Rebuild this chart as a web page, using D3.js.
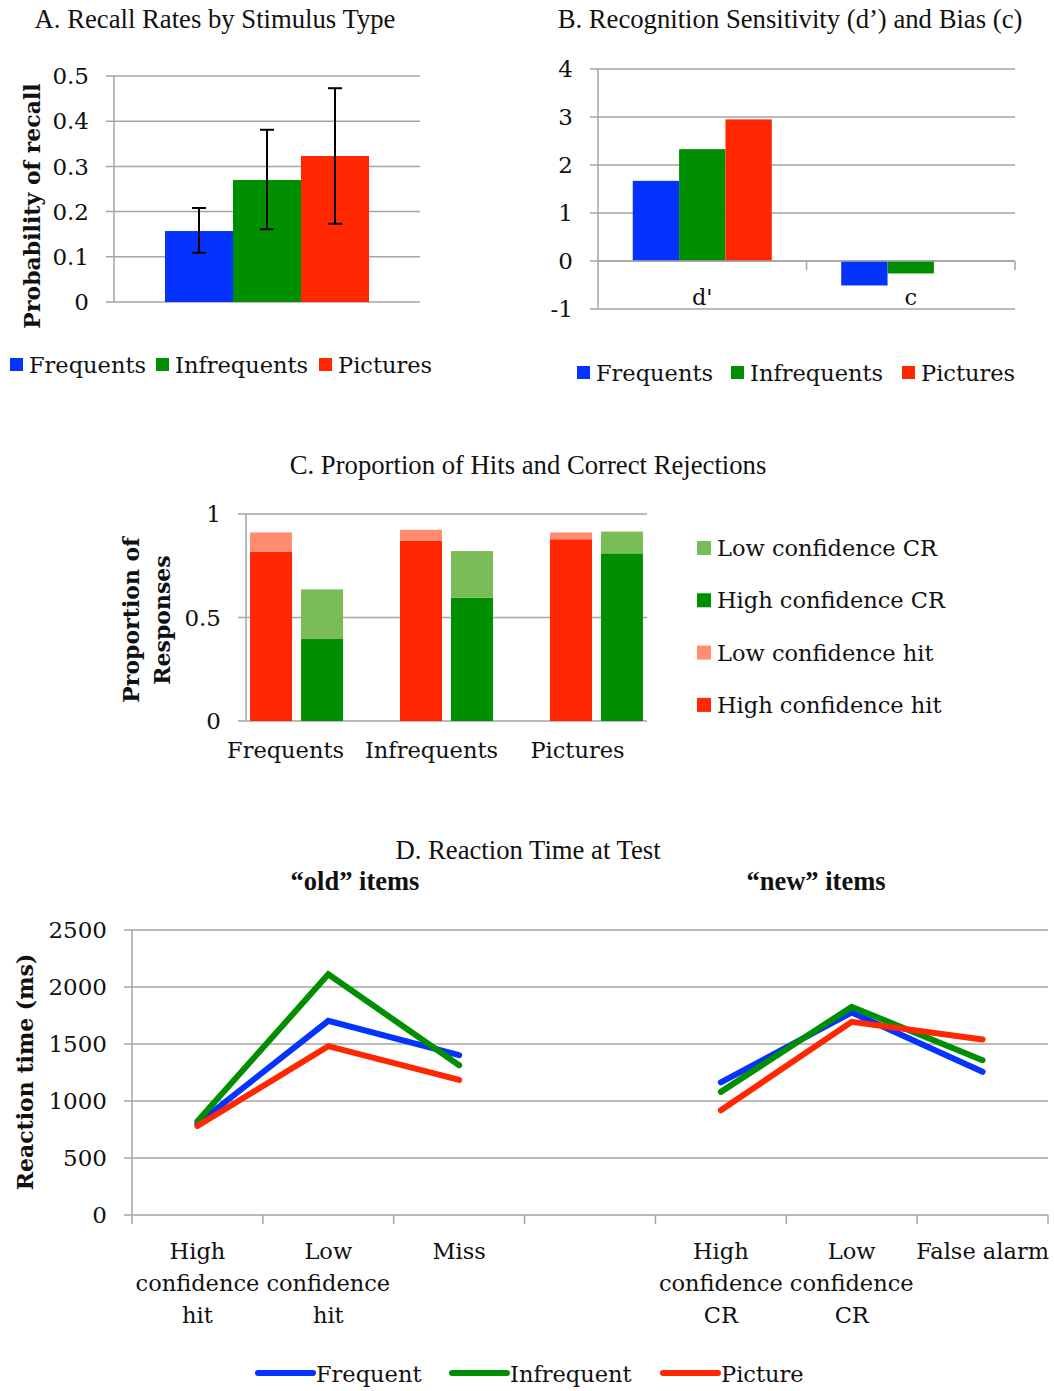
<!DOCTYPE html>
<html>
<head>
<meta charset="utf-8">
<script src="https://cdn.jsdelivr.net/npm/d3@7"></script>
<style>
  body { margin: 0; background: #fff; }
  svg { display: block; }
</style>
</head>
<body>
<div id="chart"></div>
<script>
// --- A. recall
const recallSeries = ["Frequents", "Infrequents", "Pictures"];
const recallMeans = [0.157, 0.27, 0.323];
const recallLow = [0.109, 0.161, 0.173];
const recallHigh = [0.208, 0.381, 0.473];
const recallTicks = [0, 0.1, 0.2, 0.3, 0.4, 0.5];

// --- B. d' and c
const sdtMeasures = ["d'", "c"];
const sdtFrequents = [1.67, -0.51];
const sdtInfrequents = [2.33, -0.26];
const sdtPictures = [2.95, 0.0];
const sdtTicks = [-1, 0, 1, 2, 3, 4];

// --- C. hits and correct rejections
const hitCats = ["Frequents", "Infrequents", "Pictures"];
const highConfHit = [0.818, 0.871, 0.878];
const lowConfHit = [0.093, 0.053, 0.033];
const highConfCR = [0.396, 0.596, 0.81];
const lowConfCR = [0.24, 0.225, 0.105];
const hitTicks = [0, 0.5, 1];

// --- D. reaction time
const rtCats = ["High confidence hit", "Low confidence hit", "Miss", "",
                "High confidence CR", "Low confidence CR", "False alarm"];
const rtTickLines = [["High", "confidence", "hit"], ["Low", "confidence", "hit"], ["Miss"], [],
                     ["High", "confidence", "CR"], ["Low", "confidence", "CR"], ["False alarm"]];
const rtFrequent = [800, 1703, 1402, null, 1163, 1777, 1256];
const rtInfrequent = [823, 2111, 1314, null, 1080, 1826, 1358];
const rtPicture = [781, 1481, 1185, null, 919, 1695, 1540];
const rtTicks = [0, 500, 1000, 1500, 2000, 2500];

const BLUE = "#0433ff", GREEN = "#008f00", RED = "#ff2600";
const LIGHT_GREEN = "#7abd58", LIGHT_RED = "#ff8b70";
const GRID = "#a5a5a5";
const SERIF = "'DejaVu Serif', serif";
const TITLE = "'Liberation Serif', 'Times New Roman', serif";

const svg = d3.select("#chart").append("svg")
    .attr("width", 1054)
    .attr("height", 1391)
    .style("font-family", SERIF)
    .style("fill", "#111");

function title(text, x, y) {
    svg.append("text")
        .attr("x", x).attr("y", y)
        .attr("text-anchor", "middle")
        .style("font-family", TITLE)
        .style("font-size", "26.7px")
        .text(text);
}

// horizontal gridlines + y tick labels + y axis line
function yGrid(y, ticks, x0, x1, fmt) {
    const g = svg.append("g");
    g.selectAll("line.grid")
        .data(ticks)
        .join("line")
        .attr("x1", x0 - 8).attr("x2", x1)
        .attr("y1", d => y(d)).attr("y2", d => y(d))
        .attr("stroke", GRID).attr("stroke-width", 1.5);
    g.append("line")
        .attr("x1", x0).attr("x2", x0)
        .attr("y1", y(ticks[0])).attr("y2", y(ticks[ticks.length - 1]))
        .attr("stroke", GRID).attr("stroke-width", 1.5);
    g.selectAll("text")
        .data(ticks)
        .join("text")
        .attr("x", x0 - 25).attr("y", d => y(d))
        .attr("dy", "0.36em")
        .attr("text-anchor", "end")
        .style("font-size", "23px")
        .text(fmt);
    return g;
}

function rotatedLabel(lines, x, y, size) {
    const t = svg.append("text")
        .attr("transform", `translate(${x},${y}) rotate(-90)`)
        .attr("text-anchor", "middle")
        .style("font-weight", "bold")
        .style("font-size", size + "px");
    lines.forEach((l, i) => {
        t.append("tspan").attr("x", 0).attr("dy", i === 0 ? 0 : "1.4em").text(l);
    });
}

function legendSquares(items, xs, y) {
    items.forEach((it, i) => {
        svg.append("rect")
            .attr("x", xs[i]).attr("y", y - 7)
            .attr("width", 13).attr("height", 13)
            .attr("fill", it.color);
        svg.append("text")
            .attr("x", xs[i] + 19).attr("y", y)
            .attr("dy", "0.36em")
            .style("font-size", "22.5px")
            .text(it.name);
    });
}

const seriesColors = [BLUE, GREEN, RED];

// ================= A =================
{
    title("A. Recall Rates by Stimulus Type", 215, 28);
    const y = d3.scaleLinear().domain([0, 0.5]).range([302, 76]);
    const x0 = d3.scaleBand().domain(["recall"]).range([114, 420])
        .paddingInner(0.333).paddingOuter(0.1667);
    const x1 = d3.scaleBand().domain(recallSeries).range([x0("recall"), x0("recall") + x0.bandwidth()]);
    yGrid(y, recallTicks, 114, 420, d => d === 0 ? "0" : d3.format(".1f")(d));

    svg.append("g").selectAll("rect")
        .data(recallSeries)
        .join("rect")
        .attr("x", d => x1(d))
        .attr("width", x1.bandwidth())
        .attr("y", (d, i) => y(recallMeans[i]))
        .attr("height", (d, i) => y(0) - y(recallMeans[i]))
        .attr("fill", (d, i) => seriesColors[i]);

    const eb = svg.append("g").attr("stroke", "#000").attr("stroke-width", 2);
    recallSeries.forEach((s, i) => {
        const cx = x1(s) + x1.bandwidth() / 2;
        eb.append("line").attr("x1", cx).attr("x2", cx)
            .attr("y1", y(recallLow[i])).attr("y2", y(recallHigh[i]));
        [recallLow[i], recallHigh[i]].forEach(v => {
            eb.append("line").attr("x1", cx - 7).attr("x2", cx + 7)
                .attr("y1", y(v)).attr("y2", y(v));
        });
    });
    rotatedLabel(["Probability of recall"], 40, 206, 22);
    legendSquares(recallSeries.map((n, i) => ({ name: n, color: seriesColors[i] })), [10, 156, 319], 365);
}

// ================= B =================
{
    title("B. Recognition Sensitivity (d’) and Bias (c)", 790, 28);
    const y = d3.scaleLinear().domain([-1, 4]).range([309, 69]);
    const x0 = d3.scaleBand().domain(sdtMeasures).range([598, 1015])
        .paddingInner(0.333).paddingOuter(0.1667);
    const x1 = d3.scaleBand().domain(recallSeries).range([0, x0.bandwidth()]);
    yGrid(y, sdtTicks, 598, 1015, d => d);
    const groups = [sdtFrequents, sdtInfrequents, sdtPictures];

    const g = svg.append("g");
    sdtMeasures.forEach((m, j) => {
        g.selectAll(null)
            .data(recallSeries)
            .join("rect")
            .attr("x", d => x0(m) + x1(d))
            .attr("width", x1.bandwidth())
            .attr("y", (d, i) => y(Math.max(0, groups[i][j])))
            .attr("height", (d, i) => Math.abs(y(groups[i][j]) - y(0)))
            .attr("fill", (d, i) => seriesColors[i]);
    });
    // zero line with category ticks
    svg.append("line").attr("x1", 598).attr("x2", 1015)
        .attr("y1", y(0)).attr("y2", y(0))
        .attr("stroke", GRID).attr("stroke-width", 1.5);
    svg.selectAll(null)
        .data(sdtMeasures)
        .join("line")
        .attr("x1", d => x0(d) + x0.bandwidth() + x0.step() * 0.1667)
        .attr("x2", d => x0(d) + x0.bandwidth() + x0.step() * 0.1667)
        .attr("y1", y(0)).attr("y2", y(0) + 9)
        .attr("stroke", GRID).attr("stroke-width", 1.5);
    svg.selectAll(null)
        .data(sdtMeasures)
        .join("text")
        .attr("x", d => x0(d) + x0.bandwidth() / 2)
        .attr("y", 297)
        .attr("dy", "0.36em")
        .attr("text-anchor", "middle")
        .style("font-size", "22.5px")
        .text(d => d);
    legendSquares(recallSeries.map((n, i) => ({ name: n, color: seriesColors[i] })), [577, 731, 902], 373);
}

// ================= C =================
{
    title("C. Proportion of Hits and Correct Rejections", 528, 474);
    const y = d3.scaleLinear().domain([0, 1]).range([721, 514]);
    const x0 = d3.scaleBand().domain(hitCats).range([246, 647])
        .paddingInner(0.38).paddingOuter(0.027);
    const x1 = d3.scaleBand().domain(["hit", "cr"]).range([0, x0.bandwidth()]).paddingInner(0.1765);
    yGrid(y, hitTicks, 246, 647, d => d);

    const stacks = [
        { key: "hit", vals: [highConfHit, lowConfHit], colors: [RED, LIGHT_RED] },
        { key: "cr", vals: [highConfCR, lowConfCR], colors: [GREEN, LIGHT_GREEN] }
    ];
    const g = svg.append("g");
    stacks.forEach(s => {
        hitCats.forEach((c, i) => {
            const lo = s.vals[0][i], hi = s.vals[0][i] + s.vals[1][i];
            g.append("rect")
                .attr("x", x0(c) + x1(s.key)).attr("width", x1.bandwidth())
                .attr("y", y(lo)).attr("height", y(0) - y(lo))
                .attr("fill", s.colors[0]);
            g.append("rect")
                .attr("x", x0(c) + x1(s.key)).attr("width", x1.bandwidth())
                .attr("y", y(hi)).attr("height", y(lo) - y(hi))
                .attr("fill", s.colors[1]);
        });
    });
    svg.selectAll(null)
        .data(hitCats)
        .join("text")
        .attr("x", (d, i) => x0(d) + x0.bandwidth() / 2 - 11 - 4 * i)
        .attr("y", 750)
        .attr("dy", "0.36em")
        .attr("text-anchor", "middle")
        .style("font-size", "22.5px")
        .text(d => d);
    rotatedLabel(["Proportion of", "Responses"], 139, 620, 22);

    const legendItems = [
        { name: "Low confidence CR", color: LIGHT_GREEN },
        { name: "High confidence CR", color: GREEN },
        { name: "Low confidence hit", color: LIGHT_RED },
        { name: "High confidence hit", color: RED }
    ];
    legendItems.forEach((it, i) => {
        const ly = 548 + i * 52.3;
        svg.append("rect").attr("x", 697).attr("y", ly - 7)
            .attr("width", 14).attr("height", 14).attr("fill", it.color);
        svg.append("text").attr("x", 717).attr("y", ly).attr("dy", "0.36em")
            .style("font-size", "22.5px").text(it.name);
    });
}

// ================= D =================
{
    title("D. Reaction Time at Test", 528, 859);
    svg.append("text").attr("x", 355).attr("y", 890).attr("text-anchor", "middle")
        .style("font-family", TITLE).style("font-weight", "bold").style("font-size", "26.5px")
        .text("“old” items");
    svg.append("text").attr("x", 816).attr("y", 890).attr("text-anchor", "middle")
        .style("font-family", TITLE).style("font-weight", "bold").style("font-size", "26.5px")
        .text("“new” items");

    const y = d3.scaleLinear().domain([0, 2500]).range([1215, 930]);
    const x = d3.scaleBand().domain(d3.range(rtCats.length)).range([132, 1048]);
    yGrid(y, rtTicks, 132, 1048, d => d);

    svg.selectAll(null)
        .data(d3.range(rtCats.length + 1))
        .join("line")
        .attr("x1", i => 132 + i * x.step()).attr("x2", i => 132 + i * x.step())
        .attr("y1", y(0)).attr("y2", y(0) + 9)
        .attr("stroke", GRID).attr("stroke-width", 1.5);

    const labels = svg.append("g");
    rtTickLines.forEach((lines, i) => {
        const t = labels.append("text")
            .attr("x", x(i) + x.bandwidth() / 2)
            .attr("y", 1251)
            .attr("dy", "0.36em")
            .attr("text-anchor", "middle")
            .style("font-size", "22.5px");
        lines.forEach((l, k) => {
            t.append("tspan").attr("x", x(i) + x.bandwidth() / 2)
                .attr("dy", k === 0 ? "0.36em" : 32).text(l);
        });
    });

    const line = d3.line()
        .defined(d => d != null)
        .x((d, i) => x(i) + x.bandwidth() / 2)
        .y(d => y(d));

    const rtSeries = [
        { name: "Frequent", vals: rtFrequent, color: BLUE },
        { name: "Infrequent", vals: rtInfrequent, color: GREEN },
        { name: "Picture", vals: rtPicture, color: RED }
    ];
    svg.append("g").selectAll("path")
        .data(rtSeries)
        .join("path")
        .attr("d", d => line(d.vals))
        .attr("fill", "none")
        .attr("stroke", d => d.color)
        .attr("stroke-width", 6)
        .attr("stroke-linecap", "round")
        .attr("stroke-linejoin", "miter");

    rotatedLabel(["Reaction time (ms)"], 33, 1072, 22);

    const lx = [258, 452, 663];
    rtSeries.forEach((s, i) => {
        svg.append("line").attr("x1", lx[i]).attr("x2", lx[i] + 55)
            .attr("y1", 1373).attr("y2", 1373)
            .attr("stroke", s.color).attr("stroke-width", 6).attr("stroke-linecap", "round");
        svg.append("text").attr("x", lx[i] + 58).attr("y", 1374).attr("dy", "0.36em")
            .style("font-size", "22.5px").text(s.name);
    });
}
</script>
</body>
</html>
